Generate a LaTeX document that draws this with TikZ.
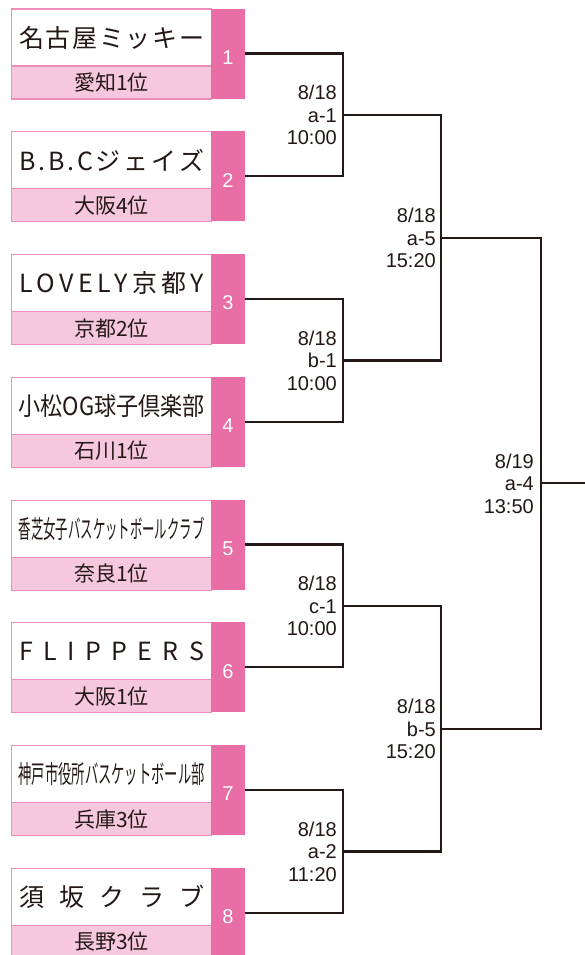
\documentclass[tikz,border=0pt]{standalone}
\usepackage{fontspec}
\usepackage{graphicx}
\setmainfont{Liberation Sans}
\newfontfamily\jpfont{Noto Sans CJK JP}
\definecolor{mag}{HTML}{E86EA5}
\definecolor{lpink}{HTML}{F6C8DE}
\definecolor{bpink}{HTML}{EC8DBB}
\definecolor{ink}{HTML}{231815}
\tikzset{
  namebox/.style={draw=bpink, line width=1.2pt, fill=white, minimum width=200pt, minimum height=57pt, inner sep=0pt, anchor=north west, text=ink, font=\jpfont\fontsize{25}{25}\selectfont},
  subbox/.style={draw=bpink, line width=1.2pt, fill=lpink, minimum width=200pt, minimum height=33pt, inner sep=0pt, anchor=north west, text=ink, font=\jpfont\fontsize{21}{21}\selectfont},
  numbox/.style={fill=mag, minimum width=34pt, minimum height=90pt, inner sep=0pt, anchor=north west},
  numtxt/.style={text=white, inner sep=0pt, font=\fontsize{20}{20}\selectfont},
  wire/.style={draw=ink, line width=2.2pt},
  lbl/.style={anchor=base east, inner sep=0pt, text=ink, font=\fontsize{20}{22}\selectfont}
}
\newcommand\teambox[4]{%
  \node[namebox] (name#1) at (11,#2) {#3};
  \node[subbox] (sub#1) at (11,#2+57) {#4};
  \node[numbox] (num#1) at (211,#2) {};
  \node[numtxt] (nt#1) at (228,#2+49) {#1};
  \coordinate (o#1) at (245,#2+45);
}
\newcommand\matchlbl[6]{%
  \node[lbl] (#1d) at (#2,#3-15) {#4};
  \node[lbl] (#1c) at (#2,#3+7.5) {#5};
  \node[lbl] (#1t) at (#2,#3+30) {#6};
}
\newcommand\spr[1]{\makebox[185pt][s]{#1}}
\newcommand\cnd[1]{\resizebox{186pt}{\height}{#1}}
\begin{document}
\begin{tikzpicture}[x=1pt,y=-1pt]
\useasboundingbox (0,0) rectangle (585,955);
\clip (0,0) rectangle (585,955);
\fill[white] (0,0) rectangle (585,955);
\teambox{1}{8.5}{\spr{名\hfill 古\hfill 屋\hfill ミ\hfill ッ\hfill キ\hfill ー}}{愛知1位}
\teambox{2}{131.25}{\spr{B\hfill .\hfill B\hfill .\hfill C\hfill ジ\hfill ェ\hfill イ\hfill ズ}}{大阪4位}
\teambox{3}{254}{\spr{L\hfill O\hfill V\hfill E\hfill L\hfill Y\hfill 京\hfill 都\hfill Y}}{京都2位}
\teambox{4}{376.75}{\cnd{小松OG球子倶楽部}}{石川1位}
\teambox{5}{499.5}{\cnd{香芝女子バスケットボールクラブ}}{奈良1位}
\teambox{6}{622.25}{\spr{F\hfill L\hfill I\hfill P\hfill P\hfill E\hfill R\hfill S}}{大阪1位}
\teambox{7}{745}{\cnd{神戸市役所バスケットボール部}}{兵庫3位}
\teambox{8}{867.75}{\spr{須\hfill 坂\hfill ク\hfill ラ\hfill ブ}}{長野3位}
% junctions
\coordinate (ja1) at (343,114.9);
\coordinate (jb1) at (343,360.4);
\coordinate (jc1) at (343,605.9);
\coordinate (ja2) at (343,851.4);
\coordinate (ja5) at (441,237.6);
\coordinate (jb5) at (441,728.6);
\coordinate (ja4) at (541,483.1);
\coordinate (out) at (590,483.1);
% connectors
\draw[wire] (o1) -| (ja1) |- (o2);
\draw[wire] (o3) -| (jb1) |- (o4);
\draw[wire] (o5) -| (jc1) |- (o6);
\draw[wire] (o7) -| (ja2) |- (o8);
\draw[wire] (ja1) -| (ja5) |- (jb1);
\draw[wire] (jc1) -| (jb5) |- (ja2);
\draw[wire] (ja5) -| (ja4) |- (jb5);
\draw[wire] (ja4) -- (out);
% labels
\matchlbl{a1}{337}{114.9}{8/18}{a-1}{10:00}
\matchlbl{b1}{337}{360.4}{8/18}{b-1}{10:00}
\matchlbl{c1}{337}{605.9}{8/18}{c-1}{10:00}
\matchlbl{a2}{337}{851.4}{8/18}{a-2}{11:20}
\matchlbl{a5}{436}{237.6}{8/18}{a-5}{15:20}
\matchlbl{b5}{436}{728.6}{8/18}{b-5}{15:20}
\matchlbl{a4}{534}{483.1}{8/19}{a-4}{13:50}
\end{tikzpicture}
\end{document}
